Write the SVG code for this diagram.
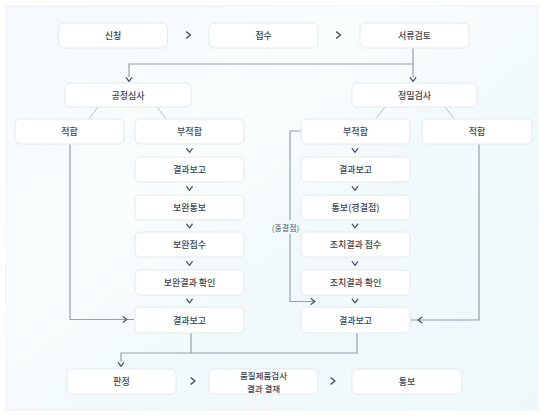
<svg xmlns="http://www.w3.org/2000/svg" xmlns:xlink="http://www.w3.org/1999/xlink" width="549" height="420" viewBox="0 0 549 420">
<defs>
<linearGradient id="bg" x1="0" y1="0" x2="1" y2="1">
<stop offset="0" stop-color="#f3f9fc"/>
<stop offset="0.35" stop-color="#fafdfe"/>
<stop offset="0.6" stop-color="#f1f9fb"/>
<stop offset="1" stop-color="#eef8fa"/>
</linearGradient>
<path id="chev" d="M-2.8,-1.8 L0,1.8 L2.8,-1.8" fill="none" stroke="#4a5466" stroke-width="1.3" stroke-linecap="round" stroke-linejoin="round"/>
</defs>
<style>
.box{fill:#ffffff;stroke:#e2e9ee;stroke-width:1}
.t{font-family:"Noto Sans CJK KR","Noto Sans",sans-serif;font-size:9px;font-weight:500;fill:#3b4456;text-anchor:middle;dominant-baseline:central}
.ln{fill:none;stroke:#959eab;stroke-width:1.2}
.dg{fill:none;stroke:#b7bec8;stroke-width:1}
</style>
<rect x="0" y="0" width="549" height="420" fill="#ffffff"/>
<rect x="6" y="6" width="532" height="404" fill="url(#bg)" stroke="#eef3f6" stroke-width="1"/>

<g id="connectors">
<path class="ln" d="M413,48 V64 H129 V77"/>
<path class="ln" d="M413,64 V77"/>
<use xlink:href="#chev" x="129" y="79.5"/>
<use xlink:href="#chev" x="413" y="79.5"/>
<path class="dg" d="M98,107 L88,120 M157,107 L167,120"/>
<path class="dg" d="M385,107 L375,120 M445,107 L455,120"/>
<use xlink:href="#chev" x="189.5" y="150.5"/>
<use xlink:href="#chev" x="189.5" y="188.5"/>
<use xlink:href="#chev" x="189.5" y="226"/>
<use xlink:href="#chev" x="189.5" y="263.5"/>
<use xlink:href="#chev" x="189.5" y="301"/>
<use xlink:href="#chev" x="355" y="150.5"/>
<use xlink:href="#chev" x="355" y="188.5"/>
<use xlink:href="#chev" x="355" y="226"/>
<use xlink:href="#chev" x="355" y="263.5"/>
<use xlink:href="#chev" x="355" y="301"/>
<path class="ln" d="M70,144 V319.5 H134"/>
<use xlink:href="#chev" transform="translate(125,319.5) rotate(-90)"/>
<path class="ln" d="M479,144 V320 H411"/>
<use xlink:href="#chev" transform="translate(420,320) rotate(90)"/>
<path class="ln" d="M301,131 H290 V301.5 H316"/>
<use xlink:href="#chev" transform="translate(313,301.5) rotate(-90)"/>
<path class="ln" d="M191,333 V353 H121 V362"/>
<path class="ln" d="M357,333 V353 H191"/>
<use xlink:href="#chev" x="121" y="364.5"/>
<use xlink:href="#chev" transform="translate(188.5,35) rotate(-90) scale(1.1)"/>
<use xlink:href="#chev" transform="translate(338.5,35) rotate(-90) scale(1.1)"/>
<use xlink:href="#chev" transform="translate(193,381) rotate(-90) scale(1.1)"/>
<use xlink:href="#chev" transform="translate(333,381) rotate(-90) scale(1.1)"/>
</g>

<g id="label-jung">
<rect x="269" y="220" width="33" height="14" fill="#f2f9fb"/>
<text class="t" x="285.5" y="227" style="font-size:8px;font-weight:400;fill:#555e6e">(중결점)</text>
</g>

<g id="n-sincheong"><rect class="box" x="58.5" y="23" width="109" height="25" rx="5"/><text class="t" x="113" y="35.5">신청</text></g>
<g id="n-jeopsu"><rect class="box" x="209" y="23" width="109" height="25" rx="5"/><text class="t" x="263.5" y="35.5">접수</text></g>
<g id="n-seoryu"><rect class="box" x="360" y="23" width="109" height="25" rx="5"/><text class="t" x="414.5" y="35.5">서류검토</text></g>

<g id="n-gongjeong"><rect class="box" x="65" y="83" width="126" height="24" rx="5"/><text class="t" x="128" y="95">공정심사</text></g>
<g id="n-jeongmil"><rect class="box" x="352" y="83" width="125" height="24" rx="5"/><text class="t" x="414.5" y="95">정밀검사</text></g>

<g id="n-l-jeokhap"><rect class="box" x="15" y="119" width="109" height="25" rx="5"/><text class="t" x="69.5" y="131.5">적합</text></g>
<g id="n-l-bujeokhap"><rect class="box" x="135" y="119" width="109" height="25" rx="5"/><text class="t" x="189.5" y="131.5">부적합</text></g>
<g id="n-l-gyeolgwa1"><rect class="box" x="135" y="157" width="109" height="25" rx="5"/><text class="t" x="189.5" y="169.5">결과보고</text></g>
<g id="n-l-bowantongbo"><rect class="box" x="135" y="195" width="109" height="25" rx="5"/><text class="t" x="189.5" y="207.5">보완통보</text></g>
<g id="n-l-bowanjeopsu"><rect class="box" x="135" y="232" width="109" height="25" rx="5"/><text class="t" x="189.5" y="244.5">보완접수</text></g>
<g id="n-l-bowanhwagin"><rect class="box" x="135" y="270" width="109" height="25" rx="5"/><text class="t" x="189.5" y="282.5">보완결과 확인</text></g>
<g id="n-l-gyeolgwa2"><rect class="box" x="135" y="307" width="109" height="26" rx="5"/><text class="t" x="189.5" y="320">결과보고</text></g>

<g id="n-r-bujeokhap"><rect class="box" x="301" y="119" width="109" height="25" rx="5"/><text class="t" x="355.5" y="131.5">부적합</text></g>
<g id="n-r-jeokhap"><rect class="box" x="422" y="119" width="110" height="25" rx="5"/><text class="t" x="477" y="131.5">적합</text></g>
<g id="n-r-gyeolgwa1"><rect class="box" x="301" y="157" width="109" height="25" rx="5"/><text class="t" x="355.5" y="169.5">결과보고</text></g>
<g id="n-r-tongbo"><rect class="box" x="301" y="195" width="109" height="25" rx="5"/><text class="t" x="355.5" y="207.5">통보(경결점)</text></g>
<g id="n-r-jochijeopsu"><rect class="box" x="301" y="232" width="109" height="25" rx="5"/><text class="t" x="355.5" y="244.5">조치결과 접수</text></g>
<g id="n-r-jochihwagin"><rect class="box" x="301" y="270" width="109" height="25" rx="5"/><text class="t" x="355.5" y="282.5">조치결과 확인</text></g>
<g id="n-r-gyeolgwa2"><rect class="box" x="301" y="307" width="109" height="26" rx="5"/><text class="t" x="355.5" y="320">결과보고</text></g>

<g id="n-panjeong"><rect class="box" x="67" y="369" width="109" height="25" rx="5"/><text class="t" x="121.5" y="381.5">판정</text></g>
<g id="n-pumjil"><rect class="box" x="209" y="369" width="109" height="25" rx="5"/><text class="t" x="263.5" y="375" style="font-size:8.5px">품질제품검사</text><text class="t" x="263.5" y="388" style="font-size:8.5px">결과 결재</text></g>
<g id="n-tongbo"><rect class="box" x="352" y="369" width="110" height="25" rx="5"/><text class="t" x="407" y="381.5">통보</text></g>
</svg>
